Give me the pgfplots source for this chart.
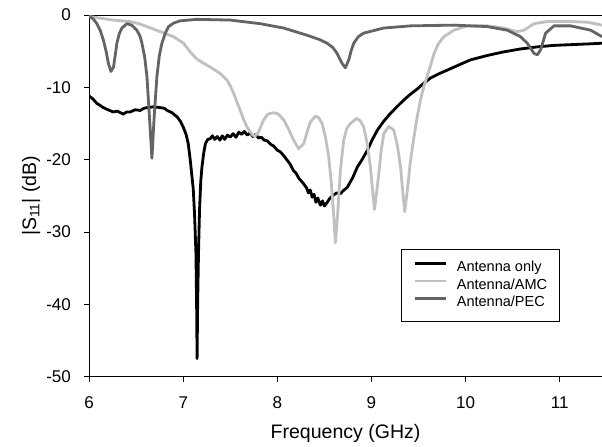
\documentclass[border=0pt]{standalone}
\usepackage{fontspec}
\setmainfont{Liberation Sans}
\usepackage{pgfplots}
\pgfplotsset{compat=1.18}

\definecolor{amc}{RGB}{192,192,192}
\definecolor{pec}{RGB}{100,100,100}

\begin{document}
\begin{tikzpicture}
\begin{axis}[
    name=A,
    scale only axis,
    width=512pt, height=361pt,
    xmin=6, xmax=11.45,
    ymin=-50, ymax=0,
    axis x line=box,
    axis y line=left,
    axis line style={-, line width=0.9pt},
    xtick pos=bottom,
    tick align=outside,
    major tick length=5pt,
    tick style={line width=0.9pt, black},
    xtick={6,7,8,9,10,11},
    xticklabels={6,7,8,9,10,11},
    ytick={-50,-40,-30,-20,-10,0},
    yticklabels={-50,-40,-30,-20,-10,0},
    tick label style={font=\fontsize{17}{20}\selectfont},
    yticklabel style={inner sep=0pt, xshift=-13pt},
    xticklabel style={inner sep=0pt, yshift=-15pt},
    xlabel={Frequency (GHz)},
    ylabel={|S\textsubscript{11}| (dB)},
    label style={font=\fontsize{19.5}{23}\selectfont},
    xlabel style={at={(axis description cs:0.5,-0.158)}, anchor=center},
    ylabel style={at={(axis description cs:-0.113,0.5)}, anchor=center},
    legend style={at={(0.609,0.352)}, anchor=north west,
        font=\fontsize{14.5}{17}\selectfont,
        draw=black, line width=0.9pt,
        inner xsep=12pt, inner ysep=11pt,
        row sep=3pt,
        nodes={inner sep=0pt, text height=11pt, text depth=3.5pt}},
    legend cell align=left,
    legend image code/.code={\draw[#1, line width=2.8pt] (0pt,4.5pt) -- (31pt,4.5pt); \path (40pt,0pt);},
    every axis plot/.append style={line width=2.8pt, line join=round},
]

% Antenna only
\addplot[black] coordinates {
(6.000,-11.2)(6.04,-11.6)(6.08,-12.2)(6.117,-12.5)(6.15,-12.8)(6.2,-13.1)(6.255,-13.4)(6.3,-13.3)(6.362,-13.7)(6.40,-13.4)(6.436,-13.4)(6.49,-13.1)(6.543,-13.2)(6.58,-12.9)(6.617,-12.8)(6.68,-12.7)(6.755,-12.8)(6.80,-12.9)(6.830,-13.2)(6.88,-13.5)(6.936,-14.1)(6.97,-14.7)(7.000,-15.5)(7.03,-16.5)(7.053,-17.8)(7.074,-20)(7.09,-22)(7.106,-24)(7.12,-27.5)(7.135,-33)(7.142,-40)(7.147,-47.5)(7.153,-40)(7.162,-33)(7.173,-27)(7.186,-23)(7.199,-21)(7.216,-19.2)(7.235,-17.8)(7.26,-17.2)(7.287,-17.1)(7.31,-16.7)(7.335,-17.2)(7.362,-16.8)(7.39,-17.3)(7.415,-16.7)(7.44,-17.2)(7.47,-16.6)(7.5,-16.9)(7.53,-16.4)(7.56,-16.9)(7.59,-16.2)(7.62,-16.5)(7.65,-16.1)(7.68,-16.6)(7.713,-16.3)(7.74,-16.8)(7.77,-16.5)(7.80,-17.0)(7.83,-16.9)(7.86,-17.3)(7.894,-17.4)(7.93,-17.9)(7.96,-18.1)(8.0,-18.7)(8.03,-18.9)(8.064,-19.4)(8.10,-20.0)(8.135,-20.6)(8.17,-21.5)(8.2,-21.9)(8.23,-22.6)(8.277,-23.3)(8.31,-23.9)(8.33,-24.6)(8.35,-24.2)(8.37,-25.2)(8.39,-24.8)(8.41,-25.9)(8.43,-25.3)(8.457,-26.3)(8.48,-25.7)(8.5,-26.4)(8.53,-25.9)(8.56,-25.3)(8.596,-24.9)(8.63,-24.6)(8.67,-24.7)(8.70,-24.3)(8.745,-23.8)(8.8,-22.5)(8.851,-21.0)(8.9,-20.0)(8.957,-18.7)(9.01,-17.2)(9.064,-15.9)(9.13,-14.7)(9.202,-13.6)(9.27,-12.7)(9.34,-11.8)(9.41,-11.0)(9.489,-10.2)(9.56,-9.4)(9.628,-8.7)(9.72,-8.1)(9.809,-7.6)(9.93,-6.9)(10.053,-6.2)(10.23,-5.6)(10.404,-5.1)(10.58,-4.7)(10.766,-4.4)(10.94,-4.2)(11.117,-4.1)(11.3,-4.0)(11.45,-3.9)
};
\addlegendentry{Antenna only}

% Antenna/AMC
\addplot[amc] coordinates {
(6.0,-0.2)(6.1,-0.4)(6.255,-0.7)(6.436,-0.9)(6.53,-1.2)(6.614,-1.6)(6.755,-2.3)(6.897,-3.0)(7.003,-3.9)(7.074,-5.1)(7.146,-6.1)(7.22,-6.7)(7.287,-7.2)(7.394,-8.1)(7.465,-9.0)(7.50,-9.8)(7.535,-10.8)(7.57,-12.0)(7.606,-13.2)(7.64,-14.4)(7.678,-15.5)(7.731,-16.5)(7.76,-16.8)(7.80,-16.2)(7.854,-14.5)(7.90,-13.7)(7.96,-13.5)(8.01,-13.7)(8.067,-14.5)(8.12,-15.8)(8.173,-17.3)(8.227,-18.5)(8.28,-17.8)(8.32,-16.0)(8.351,-14.8)(8.404,-14.0)(8.44,-14.2)(8.476,-15.0)(8.51,-16.8)(8.546,-19.6)(8.575,-23.5)(8.6,-27.9)(8.617,-31.5)(8.641,-27.5)(8.67,-21.5)(8.705,-17.3)(8.74,-15.6)(8.777,-15.0)(8.84,-14.3)(8.88,-14.6)(8.918,-15.5)(8.955,-17.8)(8.989,-21)(9.012,-24.2)(9.032,-26.9)(9.055,-24.5)(9.078,-21.9)(9.105,-18.6)(9.131,-16.4)(9.184,-15.4)(9.237,-15.9)(9.275,-18.0)(9.309,-21)(9.333,-24.5)(9.354,-27.2)(9.385,-23.8)(9.415,-20.1)(9.45,-17.0)(9.486,-14.1)(9.52,-11.8)(9.556,-9.9)(9.591,-8.5)(9.628,-7.0)(9.663,-5.4)(9.71,-4.0)(9.769,-3.0)(9.876,-2.1)(10.018,-1.5)(10.23,-1.5)(10.4,-1.8)(10.549,-2.3)(10.62,-2.1)(10.727,-1.2)(10.869,-0.9)(11.117,-0.9)(11.3,-1.0)(11.45,-1.4)
};
\addlegendentry{Antenna/AMC}

% Antenna/PEC
\addplot[pec] coordinates {
(6.000,-0.2)(6.04,-0.5)(6.082,-1.2)(6.12,-2.2)(6.152,-3.5)(6.18,-5.0)(6.205,-6.7)(6.231,-7.8)(6.259,-7.2)(6.28,-5.3)(6.295,-3.9)(6.32,-2.6)(6.348,-1.8)(6.401,-1.2)(6.454,-1.4)(6.507,-2.1)(6.54,-2.9)(6.561,-3.9)(6.59,-5.8)(6.614,-8.5)(6.641,-14.1)(6.667,-19.8)(6.691,-14.1)(6.72,-8.5)(6.745,-5.7)(6.773,-3.9)(6.81,-2.5)(6.844,-1.6)(6.9,-1.1)(6.968,-0.8)(7.146,-0.6)(7.5,-0.7)(7.819,-1.2)(8.067,-1.8)(8.316,-2.8)(8.45,-3.4)(8.529,-3.9)(8.59,-4.5)(8.635,-5.3)(8.688,-6.7)(8.723,-7.3)(8.759,-6.2)(8.785,-4.9)(8.812,-3.9)(8.86,-3.0)(8.918,-2.5)(9.131,-1.8)(9.415,-1.5)(9.876,-1.4)(10.231,-1.6)(10.444,-2.1)(10.585,-3.0)(10.656,-3.9)(10.727,-5.3)(10.763,-5.5)(10.798,-4.8)(10.851,-2.5)(10.94,-1.5)(11.117,-1.5)(11.33,-2.1)(11.45,-3.0)
};
\addlegendentry{Antenna/PEC}

\end{axis}
\pgfresetboundingbox
\path ([xshift=-89pt,yshift=-70pt]A.south west) rectangle ([yshift=15pt]A.north east);
\end{tikzpicture}
\end{document}
